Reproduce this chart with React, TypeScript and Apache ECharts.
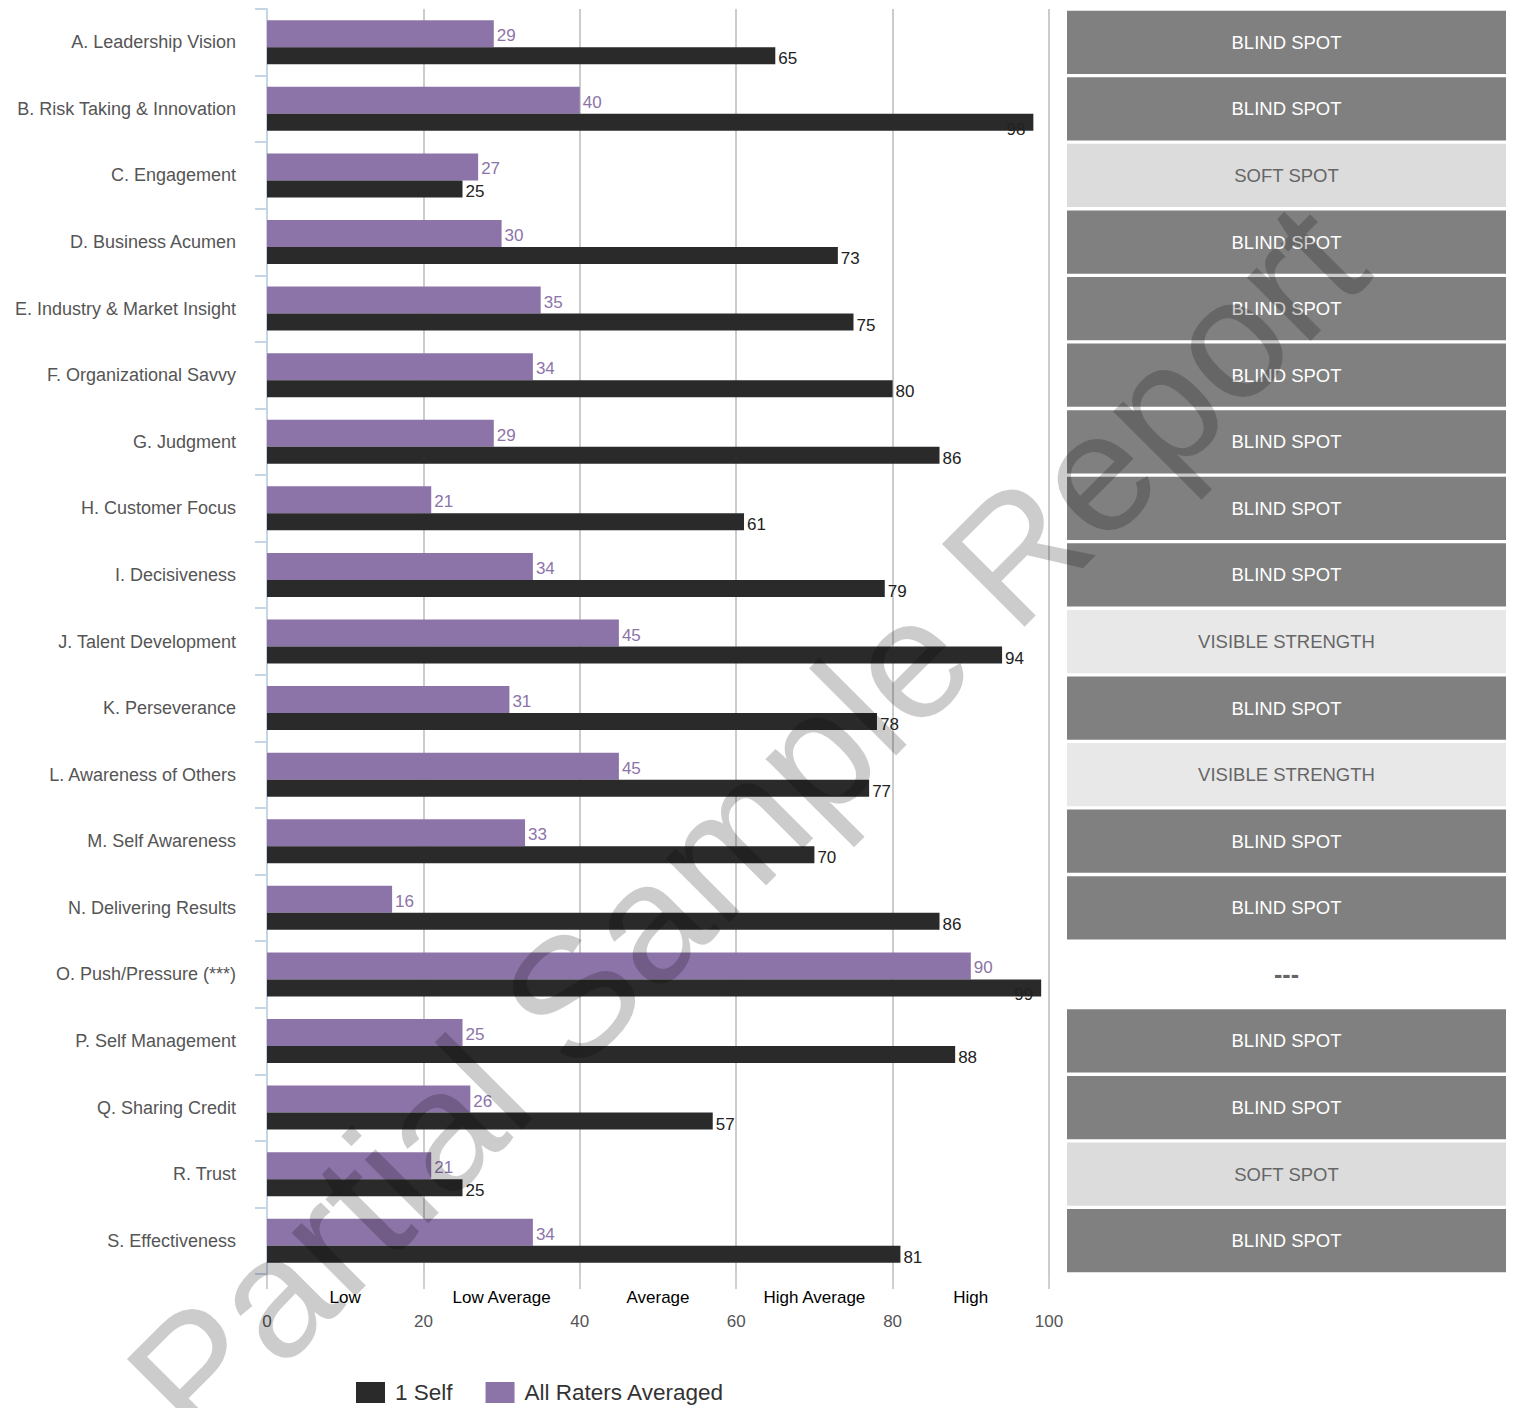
import React, { useEffect, useRef } from "react";
import * as echarts from "echarts";

const categories = [
  "A. Leadership Vision",
  "B. Risk Taking & Innovation",
  "C. Engagement",
  "D. Business Acumen",
  "E. Industry & Market Insight",
  "F. Organizational Savvy",
  "G. Judgment",
  "H. Customer Focus",
  "I. Decisiveness",
  "J. Talent Development",
  "K. Perseverance",
  "L. Awareness of Others",
  "M. Self Awareness",
  "N. Delivering Results",
  "O. Push/Pressure (***)",
  "P. Self Management",
  "Q. Sharing Credit",
  "R. Trust",
  "S. Effectiveness",
];

const selfScores = [65, 98, 25, 73, 75, 80, 86, 61, 79, 94, 78, 77, 70, 86, 99, 88, 57, 25, 81];
const raterScores = [29, 40, 27, 30, 35, 34, 29, 21, 34, 45, 31, 45, 33, 16, 90, 25, 26, 21, 34];

const statusLabels = [
  "BLIND SPOT",
  "BLIND SPOT",
  "SOFT SPOT",
  "BLIND SPOT",
  "BLIND SPOT",
  "BLIND SPOT",
  "BLIND SPOT",
  "BLIND SPOT",
  "BLIND SPOT",
  "VISIBLE STRENGTH",
  "BLIND SPOT",
  "VISIBLE STRENGTH",
  "BLIND SPOT",
  "BLIND SPOT",
  "---",
  "BLIND SPOT",
  "BLIND SPOT",
  "SOFT SPOT",
  "BLIND SPOT",
];

const bandLabels = ["Low", "Low Average", "Average", "High Average", "High"];

const seriesNames = ["1 Self", "All Raters Averaged"];

const watermarkText = "Partial Sample Report";

const statusStyle: Record<string, { fill: string; text: string }> = {
  "BLIND SPOT": { fill: "#808080", text: "#ffffff" },
  "SOFT SPOT": { fill: "#dcdcdc", text: "#666666" },
  "VISIBLE STRENGTH": { fill: "#e8e8e8", text: "#666666" },
  "---": { fill: "rgba(0,0,0,0)", text: "#666666" },
};

const FONT = "'Liberation Sans', Arial, Helvetica, sans-serif";

export default function App() {
  const ref = useRef<HTMLDivElement>(null);

  useEffect(() => {
    if (!ref.current) return;
    const chart = echarts.init(ref.current, undefined, { renderer: "svg" });

    const option: any = {
      animation: false,
      backgroundColor: "#ffffff",
      textStyle: { fontFamily: FONT },
      legend: {
        data: seriesNames,
        left: 356,
        top: 1381,
        padding: 0,
        itemWidth: 29,
        itemHeight: 21,
        itemGap: 33,
        icon: "rect",
        textStyle: { fontSize: 22.5, color: "#333333", fontFamily: FONT, padding: [0, 0, 0, 5] },
      },
      grid: [
        { left: 267, right: 466, top: 9, bottom: 134, containLabel: false },
        { left: 1067, right: 9, top: 9, bottom: 134, containLabel: false },
      ],
      xAxis: [
        {
          type: "value",
          gridIndex: 0,
          min: 0,
          max: 100,
          interval: 20,
          position: "bottom",
          axisLine: { show: false },
          axisTick: { show: true, length: 15, lineStyle: { color: "#d0d0d0", width: 2 } },
          splitLine: { show: true, lineStyle: { color: "#cccccc", width: 2 } },
          axisLabel: { margin: 39, fontSize: 17, color: "#555555", fontFamily: FONT },
        },
        {
          type: "category",
          gridIndex: 0,
          data: bandLabels,
          position: "bottom",
          boundaryGap: true,
          axisLine: { show: false },
          axisTick: { show: false },
          splitLine: { show: false },
          axisLabel: { margin: 15, fontSize: 17, color: "#000000", fontFamily: FONT, interval: 0 },
        },
        {
          type: "value",
          gridIndex: 1,
          min: 0,
          max: 1,
          show: false,
        },
      ],
      yAxis: [
        {
          type: "category",
          gridIndex: 0,
          data: categories,
          inverse: true,
          axisLine: { show: true, lineStyle: { color: "#c6d5e6", width: 2 } },
          axisTick: { show: true, length: 12, lineStyle: { color: "#c6d5e6", width: 2 } },
          splitLine: { show: false },
          axisLabel: { margin: 31, fontSize: 18, color: "#555555", fontFamily: FONT, interval: 0 },
        },
        {
          type: "category",
          gridIndex: 1,
          data: categories,
          inverse: true,
          show: false,
        },
      ],
      series: [
        {
          name: seriesNames[1],
          type: "bar",
          xAxisIndex: 0,
          yAxisIndex: 0,
          barWidth: 27,
          barGap: "0%",
          itemStyle: { color: "#8c74a9" },
          label: {
            show: true,
            position: "right",
            distance: 3,
            offset: [0, 2],
            fontSize: 17,
            color: "#8c74a9",
            fontFamily: FONT,
          },
          data: raterScores,
          z: 3,
        },
        {
          name: seriesNames[0],
          type: "bar",
          xAxisIndex: 0,
          yAxisIndex: 0,
          barWidth: 17,
          barGap: "0%",
          itemStyle: { color: "#2a2a2a" },
          label: {
            show: true,
            position: "right",
            distance: 3,
            offset: [0, 3],
            fontSize: 17,
            color: "#222222",
            fontFamily: FONT,
          },
          data: selfScores.map((v) =>
            v > 95
              ? { value: v, label: { position: "insideRight", distance: 5, offset: [-3, 7], color: "#222222" } }
              : v
          ),
          z: 3,
        },
        {
          name: "status",
          type: "bar",
          xAxisIndex: 2,
          yAxisIndex: 1,
          barCategoryGap: "5%",
          silent: true,
          label: {
            show: true,
            position: "inside",
            fontSize: 18.5,
            fontFamily: FONT,
            formatter: (p: any) => statusLabels[p.dataIndex],
          },
          data: statusLabels.map((s) => ({
            value: 1,
            itemStyle: { color: statusStyle[s].fill },
            label:
              s === "---"
                ? { color: statusStyle[s].text, fontSize: 25, fontWeight: "bold" }
                : { color: statusStyle[s].text },
          })),
        },
      ],
      graphic: [
        {
          type: "text",
          x: 746,
          y: 822,
          rotation: Math.PI / 4,
          z: 100,
          silent: true,
          style: {
            text: watermarkText,
            fontSize: 170,
            fontFamily: FONT,
            fill: "rgba(0,0,0,0.2)",
            textAlign: "center",
            textVerticalAlign: "middle",
          },
        },
      ],
    };

    chart.setOption(option);
    return () => {
      chart.dispose();
    };
  }, []);

  return (
    <div
      ref={ref}
      style={{ position: "absolute", left: 0, top: 0, width: 1515, height: 1408 }}
    />
  );
}
